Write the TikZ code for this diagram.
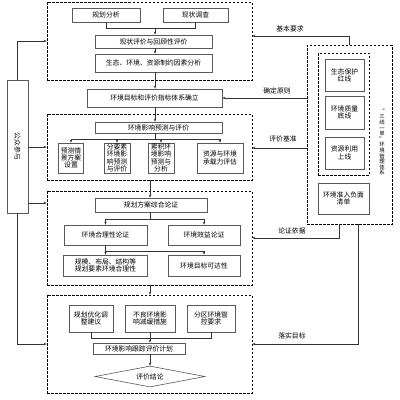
\documentclass[tikz,border=0pt]{standalone}
\usepackage{fontspec}
\newfontfamily\cjk{Noto Sans CJK SC}
\usetikzlibrary{arrows.meta,shapes.geometric}
\begin{document}
\begin{tikzpicture}[x=1pt,y=-1pt,
  sz/.style 2 args={minimum width=#1pt, minimum height=#2pt},
  box/.style={draw=black!65, line width=0.6pt, inner sep=0pt, align=center, font=\cjk\fontsize{6.8}{7.2}\selectfont},
  dbox/.style={draw=black, line width=0.7pt, dash pattern=on 2.5pt off 1.5pt, inner sep=0pt},
  conn/.style={draw=black!80, line width=0.5pt},
  arr/.style={conn, -{Stealth[length=3pt,width=2.4pt]}},
  lbl/.style={font=\cjk\fontsize{6.8}{7.2}\selectfont, inner sep=0pt}
]
\useasboundingbox (0,0) rectangle (400,400);
% dashed groups
\node[dbox, sz={205}{78}] (D1) at (149.5,41) {};
\node[dbox, sz={205}{66}] (D2) at (149.5,147) {};
\node[dbox, sz={205}{94}] (D3) at (149.5,238) {};
\node[dbox, sz={205}{98}] (D4) at (149.5,344) {};
% group 1
\node[box, sz={68}{14}] (A1) at (106,15) {规划分析};
\node[box, sz={65}{14}] (A2) at (195.5,15) {现状调查};
\node[box, sz={117}{13}] (A3) at (153.5,41.5) {现状评价与回顾性评价};
\node[box, sz={117}{18}] (A4) at (153.5,63) {生态、环境、资源制约因素分析};
\node[box, sz={135}{18}] (B) at (154.5,98) {环境目标和评价指标体系确立};
% group 2
\node[box, sz={127}{11}] (C0) at (158.5,127.5) {环境影响预测与评价};
\node[box, sz={25}{30}] (C1) at (71,158) {预测情\\景方案\\设置};
\node[box, sz={26}{30}] (C2) at (117,158) {分要素\\环境影\\响预测\\与评价};
\node[box, sz={26}{30}] (C3) at (161,158) {累积环\\境影响\\预测与\\分析};
\node[box, sz={46}{30}] (C4) at (220,158) {资源与环境\\承载力评估};
% group 3
\node[box, sz={112}{14}] (E0) at (151,205) {规划方案综合论证};
\node[box, sz={83}{20}] (E1) at (105.5,235) {环境合理性论证};
\node[box, sz={72}{20}] (E2) at (204,235) {环境效益论证};
\node[box, sz={84}{21}] (E3) at (105.5,265.5) {规模、布局、结构等\\规划要素环境合理性};
\node[box, sz={72}{21}] (E4) at (204,265.5) {环境目标可达性};
% group 4
\node[box, sz={44}{27}] (F1) at (91,318.5) {规划优化调\\整建议};
\node[box, sz={50}{27}] (F2) at (150,318.5) {不良环境影\\响减缓措施};
\node[box, sz={48}{27}] (F3) at (211,318.5) {分区环境管\\控要求};
\node[box, sz={92}{11}] (G) at (139,348.5) {环境影响跟踪评价计划};
\node[box, diamond, aspect=5.2, sz={110}{21}] (H) at (150,376.5) {评价结论};
% left
\node[box, sz={133}{21}, rotate=-90] (P) at (17.5,146.5) {公众参与};
% right
\node[dbox, sz={85}{179}] (R) at (349.5,134.5) {};
\draw[line width=1.4pt, dash pattern=on 1.2pt off 0.8pt] (R.north east) -- (R.south east);
\node[dbox, sz={51}{122}] (RI) at (343.5,114) {};
\node[box, sz={39}{32}] (R1) at (344.5,75) {生态保护\\红线};
\node[box, sz={39}{33}] (R2) at (344.5,112.5) {环境质量\\底线};
\node[box, sz={39}{32}] (R3) at (344.5,153) {资源利用\\上线};
\node[box, sz={51}{31}] (R4) at (343.5,198.5) {环境准入负面\\清单};
\node[inner sep=0pt, align=center, font=\cjk\fontsize{5.4}{5.6}\selectfont] (V) at (382,142) {“\\三\\线\\一\\单\\”\\环\\境\\管\\理\\体\\系};
% labels
\node[lbl] (L1) at (290,29) {基本要求};
\node[lbl] (L2) at (277,91) {确定原则};
\node[lbl] (L3) at (283,139) {评价基准};
\node[lbl] (L4) at (292,231) {论证依据};
\node[lbl] (L5) at (292,336) {落实目标};
% coordinates
\coordinate (j1) at (155,28);
\coordinate (j2) at (155,139);
\coordinate (j3) at (150,219);
\coordinate (j4) at (105.5,251);
\coordinate (j5) at (150,338);
% group 1 connectors
\draw[conn] (A1.south) |- (j1);
\draw[conn] (A2.south) |- (j1);
\draw[arr] (j1) -- (j1 |- A3.north);
\draw[arr] (A3.south -| j1) -- (A4.north -| j1);
\draw[arr] (A4.south -| j1) -- (B.north -| j1);
\draw[arr] (B.south -| j1) -- (C0.north -| j1);
% group 2
\draw[conn] (C0.south -| j2) -- (j2);
\draw[conn] (C1.north |- j2) -- (C4.north |- j2);
\foreach \n in {C1,C2,C3,C4} \draw[arr] (\n.north |- j2) -- (\n.north);
\draw[arr] (D2.south -| j3) -- (E0.north -| j3);
% group 3
\draw[conn] (E0.south -| j3) -- (j3);
\draw[conn] (E1.north |- j3) -- (E2.north |- j3);
\draw[arr] (E1.north |- j3) -- (E1.north);
\draw[arr] (E2.north |- j3) -- (E2.north);
\draw[conn] (E1.south) -- (j4) -- (j4 -| E4.north);
\draw[arr] (j4) -- (E3.north);
\draw[arr] (j4 -| E4.north) -- (E4.north);
\draw[arr] (D3.south -| j3) -- (D4.north -| j3);
% group 4
\draw[conn] (F1.south) |- (j5);
\draw[conn] (F3.south) |- (j5);
\draw[conn] (F2.south) -- (j5);
\draw[arr] (j5) -- (j5 |- G.north);
\draw[arr] (G.south -| j5) -- (H.north);
% left connectors
\draw[arr] (P.west) |- (D1.west);
\draw[arr] (P.north |- D2.west) -- (D2.west);
\draw[arr] (P.north |- 0,203) -- (D3.west |- 0,203);
\draw[arr] (P.east) |- (D4.west);
% right connectors
\draw[arr] (R.north) |- (D1.east |- 0,36);
\draw[arr] (R.west |- B.east) -- (B.east);
\draw[arr] (R.west |- 0,148) -- (D2.east |- 0,148);
\draw[arr] (R.south -| 339,0) |- (D3.east);
\draw[arr] (R.south -| 358,0) |- (D4.east);
\end{tikzpicture}
\end{document}
